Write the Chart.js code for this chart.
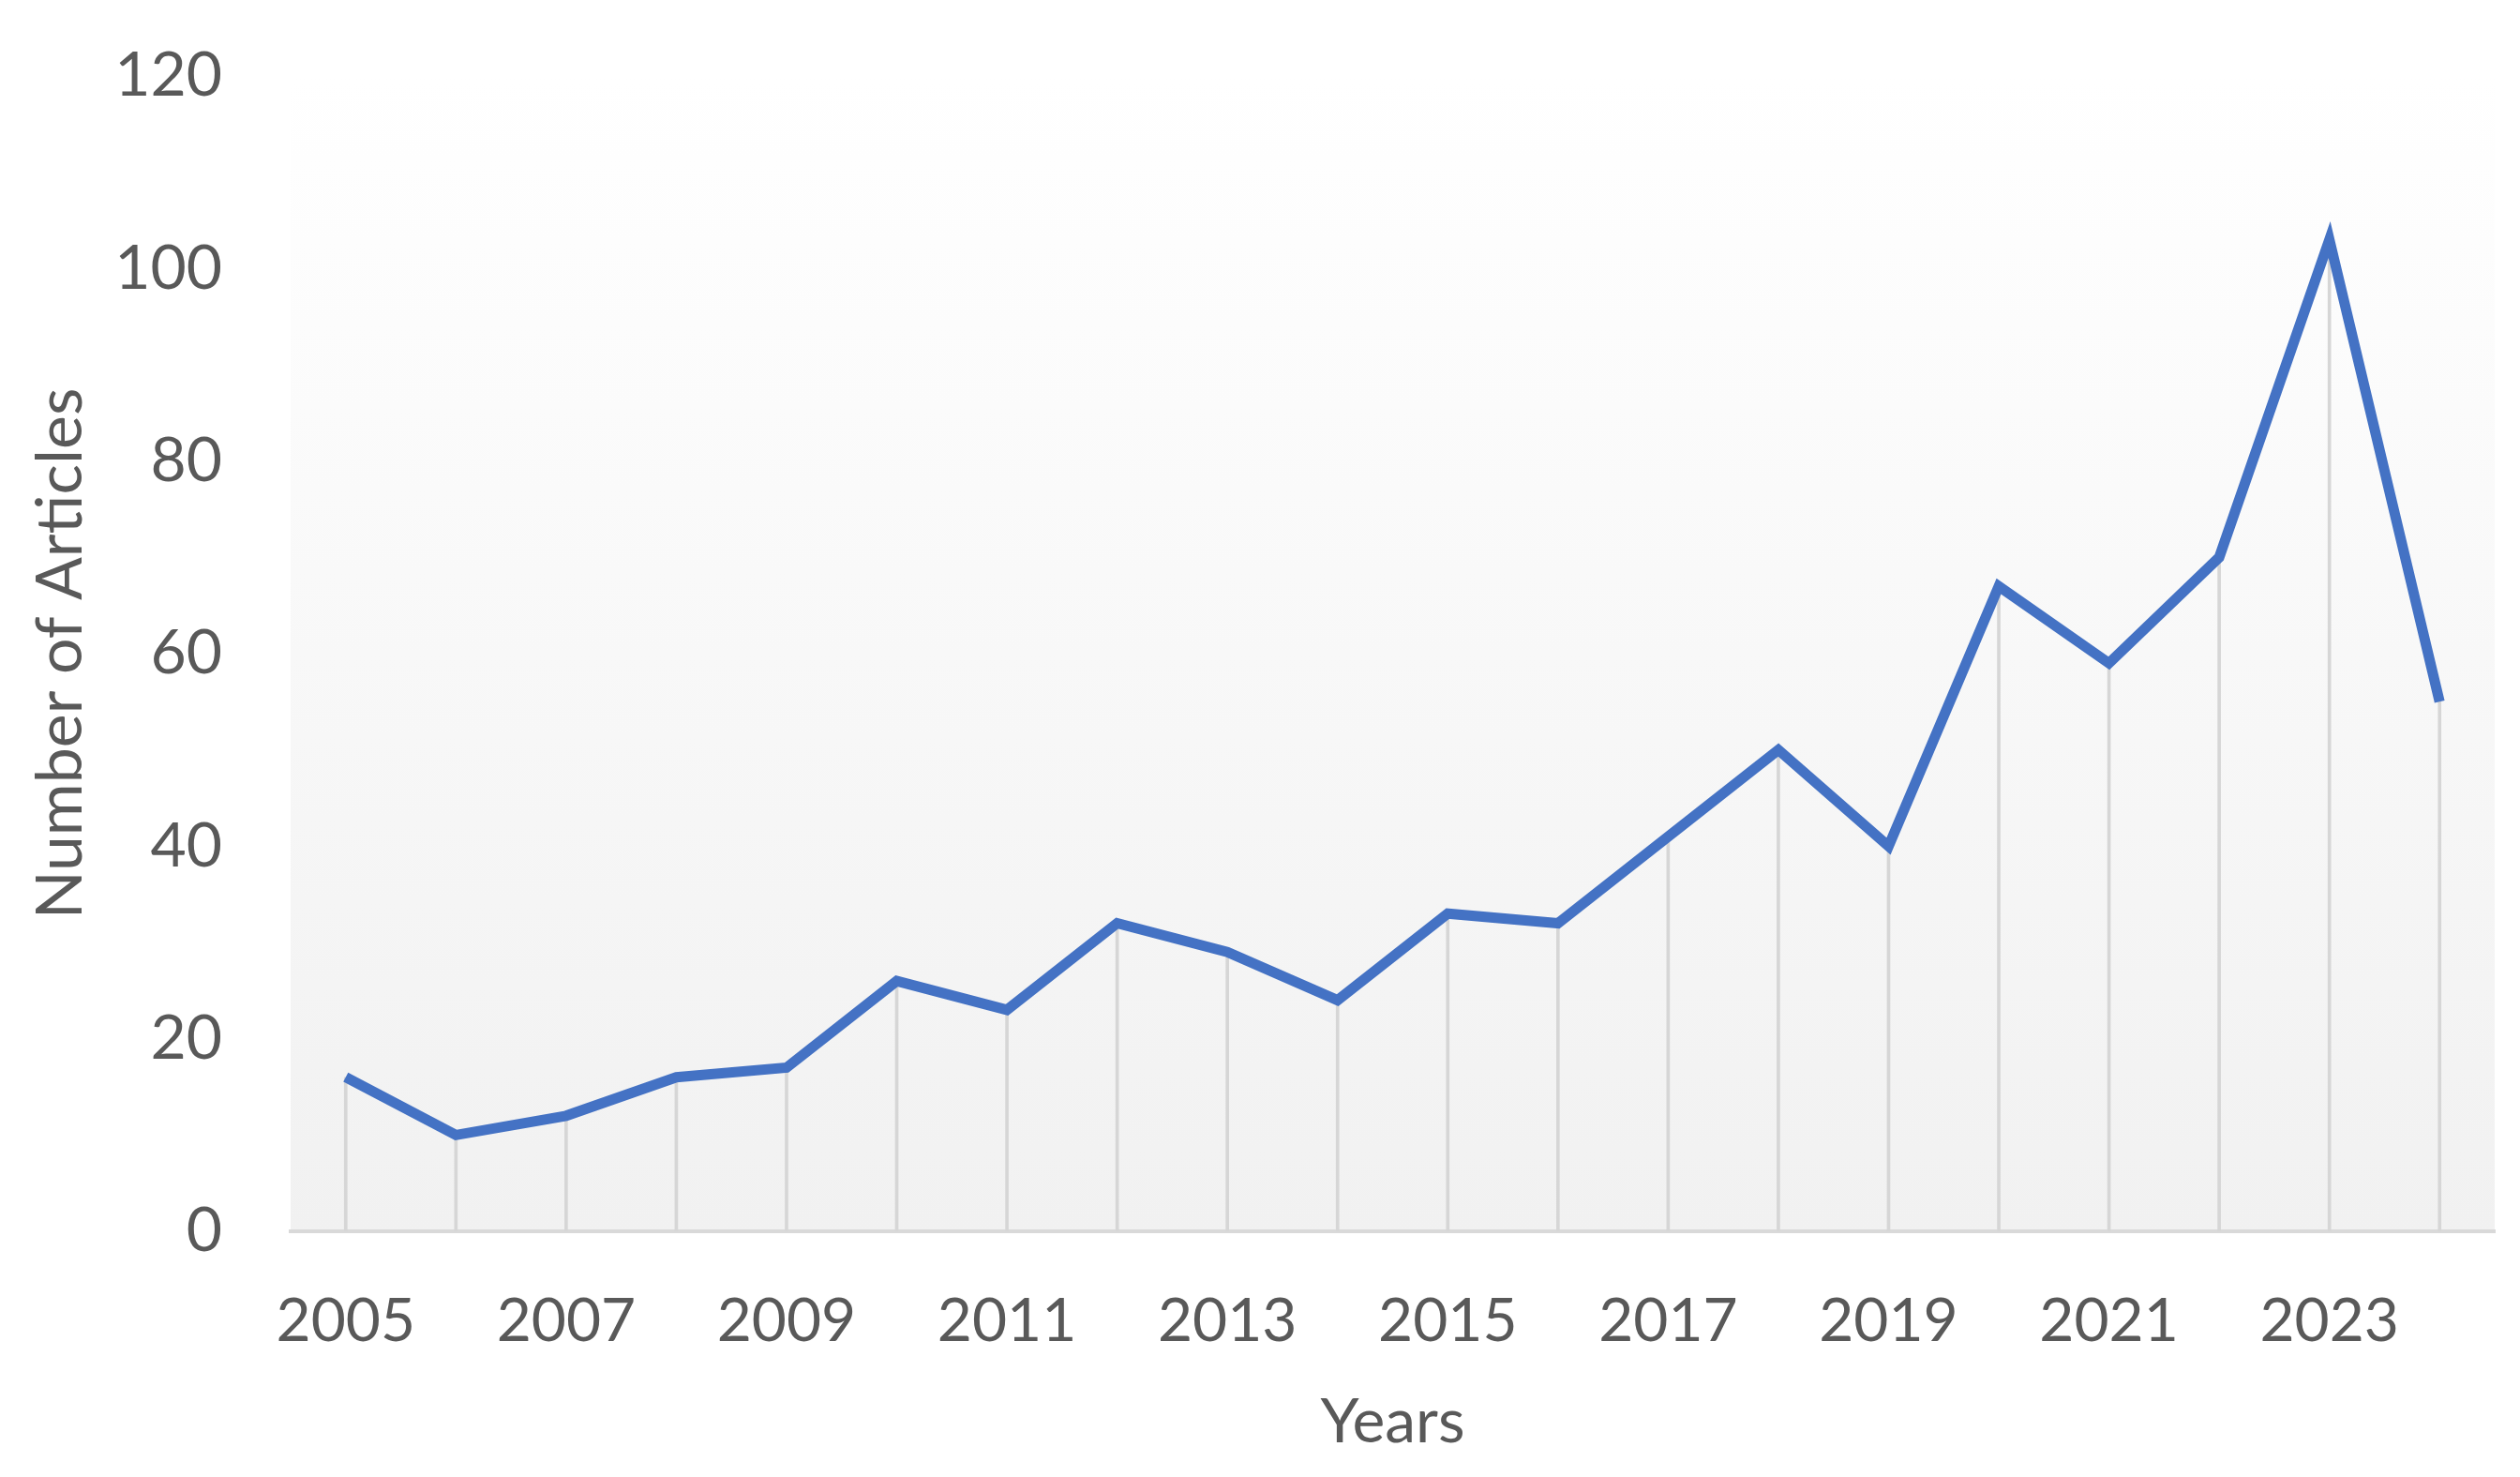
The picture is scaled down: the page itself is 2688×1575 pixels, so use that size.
<!DOCTYPE html>
<html>
<head>
<meta charset="utf-8">
<script src="https://cdn.jsdelivr.net/npm/chart.js@4.4.1/dist/chart.umd.min.js"></script>
<style>
  html, body { margin:0; padding:0; background:#fff; }
  #chart { display:block; }
</style>
</head>
<body>
<canvas id="chart" width="2688" height="1575"></canvas>
<script>
// data
const years = ['2005','2006','2007','2008','2009','2010','2011','2012','2013','2014',
               '2015','2016','2017','2018','2019','2020','2021','2022','2023','2024'];
const articles = [16, 10, 12, 16, 17, 26, 23, 32, 29, 24, 33, 32, 41, 50, 40, 67, 59, 70, 103, 55];
const yTicks = [0, 20, 40, 60, 80, 100, 120];

const textGray = '#595959';
const lineBlue = '#4472C4';
const fontFamily = 'Lato, "Open Sans", sans-serif';

// soft gradient behind the plot area
const plotBg = {
  id: 'plotBg',
  beforeDraw(chart){
    const {ctx, chartArea:a} = chart;
    const g = ctx.createLinearGradient(0, a.top, 0, a.bottom);
    g.addColorStop(0, '#ffffff');
    g.addColorStop(1, '#f1f1f1');
    ctx.save();
    ctx.fillStyle = g;
    ctx.fillRect(a.left, a.top, a.right - a.left, a.bottom - a.top);
    ctx.restore();
  }
};

new Chart(document.getElementById('chart').getContext('2d'), {
  data: {
    labels: years,
    datasets: [
      {
        type: 'line',
        data: articles,
        borderColor: lineBlue,
        borderWidth: 11,
        tension: 0,
        pointRadius: 0,
        borderJoinStyle: 'miter',
        order: 1
      },
      {
        // drop lines from each point down to the axis
        type: 'bar',
        data: articles,
        backgroundColor: '#d6d6d6',
        barThickness: 3,
        order: 2
      }
    ]
  },
  options: {
    responsive: false,
    animation: false,
    layout: { padding: { left: 20, right: 27, top: 81, bottom: 15 } },
    plugins: { legend: { display: false }, tooltip: { enabled: false } },
    scales: {
      x: {
        offset: true,
        grid: { display: false, drawTicks: false },
        border: { display: true, color: '#d9d9d9', width: 4 },
        ticks: {
          autoSkip: false, maxRotation: 0, padding: 58,
          color: textGray, font: { family: fontFamily, size: 64 },
          callback: (v, i) => i % 2 === 0 ? years[i] : ''
        },
        title: {
          display: true, text: 'Years', color: textGray,
          font: { family: fontFamily, size: 66 }, padding: { top: 4, bottom: 4 }
        },
        afterFit(scale){
          scale.height = 247;
          scale.paddingLeft = 0; scale.paddingRight = 0;
        }
      },
      y: {
        min: yTicks[0], max: yTicks[yTicks.length - 1],
        grid: { display: false, drawTicks: false },
        border: { display: false },
        afterBuildTicks(scale){ scale.ticks = yTicks.map(v => ({value: v})); },
        ticks: {
          padding: 73, color: textGray,
          font: { family: fontFamily, size: 66 }
        },
        title: {
          display: true, text: 'Number of Articles', color: textGray,
          font: { family: fontFamily, size: 68 }, padding: { top: 4, bottom: 4 }
        },
        afterFit(scale){
          scale.width = 290;
          scale.paddingTop = 0; scale.paddingBottom = 0;
        }
      }
    }
  },
  plugins: [plotBg]
});
</script>
</body>
</html>
